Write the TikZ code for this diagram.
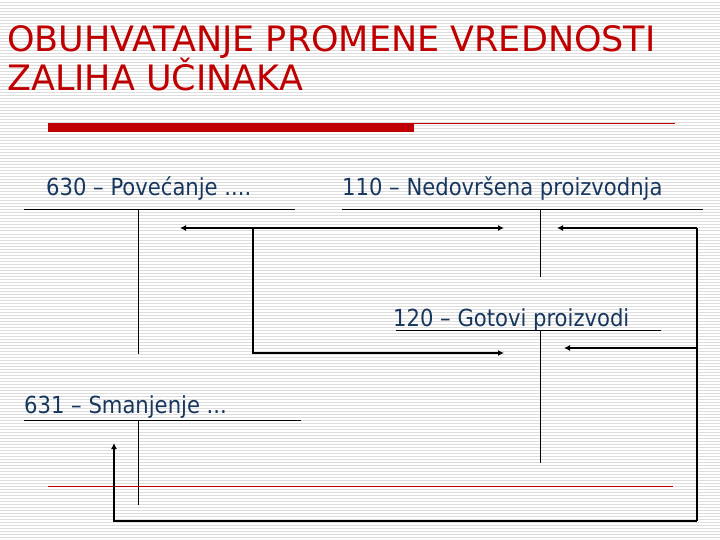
\documentclass[tikz,border=0pt]{standalone}
\usepackage{fontspec}
\setmainfont{DejaVu Sans Condensed}
\newfontfamily\titlefont{DejaVu Sans}
\usetikzlibrary{arrows.meta}
\definecolor{titlered}{HTML}{C00000}
\definecolor{navy}{HTML}{17375E}
\definecolor{stripe}{HTML}{DDDDDD}
\tikzset{
  acct/.style={line width=1pt, draw=black},
  flow/.style={line width=2.2pt, draw=black, -{Latex[length=6pt,width=6pt]}},
  flowline/.style={line width=2.2pt, draw=black},
  lbl/.style={anchor=base west, inner sep=0pt, text=navy, font=\fontsize{23.5}{26}\selectfont},
  ttl/.style={anchor=base west, inner sep=0pt, text=titlered, font=\titlefont\fontsize{35}{39}\selectfont},
}
\begin{document}
\begin{tikzpicture}[x=1pt,y=-1pt]
\useasboundingbox (0,0) rectangle (720,540);
\fill[white] (0,0) rectangle (720,540);
\foreach \i in {1,...,179} {\draw[stripe, line width=1pt] (0,3*\i) -- (720,3*\i);}
% title
\node[ttl] (title1) at (7,52) {OBUHVATANJE PROMENE VREDNOSTI};
\node[ttl] (title2) at (7,91) {ZALIHA UČINAKA};
\fill[titlered] (48,123) rectangle (414,132);
\draw[titlered, line width=1pt] (414,124) -- (675,124);
% labels
\node[lbl] (a630) at (46,196) {630 – Povećanje ....};
\node[lbl] (a110) at (342,196) {110 – Nedovršena proizvodnja};
\node[lbl] (a120) at (393,326) {120 – Gotovi proizvodi};
\node[lbl] (a631) at (24,413) {631 – Smanjenje ...};
% T accounts
\draw[acct] (24,210) -- (295,210) (138,210) -- (138,354);
\draw[acct] (342,210) -- (703,210) (540,210) -- (540,277);
\draw[acct] (396,330) -- (661,330) (540,330) -- (540,463);
\draw[acct] (24,420) -- (301,420) (138,420) -- (138,505);
% red line
\draw[titlered, line width=0.8pt] (48,486) -- (673,486);
% flows
\coordinate (j1) at (253,228);
\coordinate (j2) at (253,353);
\coordinate (r1) at (697,228);
\coordinate (r2) at (697,348);
\coordinate (r3) at (697,521);
\coordinate (b1) at (114,521);
\coordinate (t630) at (180,228);
\coordinate (t110a) at (504,228);
\coordinate (t120a) at (504,353);
\coordinate (t110b) at (557,228);
\coordinate (t120b) at (564,348);
\coordinate (t631) at (114,443);
\draw[flow] (j1) -- (t630);
\draw[flow] (j1) -- (t110a);
\draw[flow] (j1) -- (j2) -- (t120a);
\draw[flow] (r1) -- (t110b);
\draw[flow] (r2) -- (t120b);
\draw[flowline] (r1) -- (r3);
\draw[flow] (r3) -- (b1) -- (t631);
\end{tikzpicture}
\end{document}
